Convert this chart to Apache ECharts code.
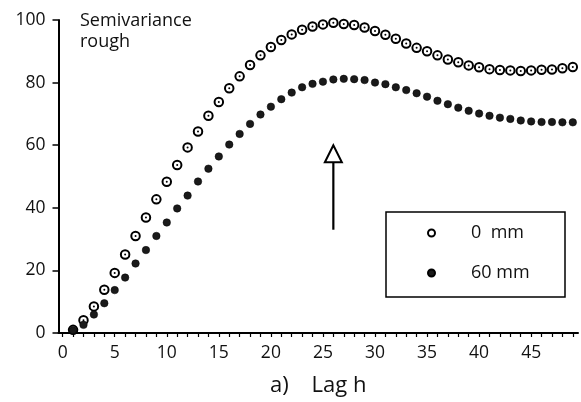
<!DOCTYPE html>
<html>
<head>
<meta charset="utf-8">
<script src="https://cdn.jsdelivr.net/npm/echarts@6/dist/echarts.min.js"></script>
<style>
html, body { margin: 0; padding: 0; background: #fff; }
#chart { width: 581px; height: 402px; }
</style>
</head>
<body>
<div id="chart"></div>
<script>
/* lag h = 1 .. 49 */
var lags = [];
for (var i = 1; i <= 49; i++) lags.push(i)

/* semivariance, 0 mm */
var rough0 = [1.0, 4.1, 8.5, 13.8, 19.2, 25.1, 31.0, 36.9, 42.7, 48.3,
  53.7, 59.3, 64.4, 69.4, 73.8, 78.2, 82.0, 85.6, 88.7, 91.4,
  93.6, 95.4, 96.9, 97.9, 98.6, 99.1, 98.7, 98.4, 97.6, 96.5,
  95.3, 94.0, 92.5, 91.1, 90.0, 88.7, 87.4, 86.5, 85.5, 84.9,
  84.3, 84.0, 83.9, 83.7, 83.9, 84.1, 84.2, 84.6, 85.0]

/* semivariance, 60 mm */
var rough60 = [0.9, 2.6, 5.9, 9.5, 13.7, 17.7, 22.2, 26.5, 31.0, 35.3,
  39.8, 43.9, 48.4, 52.5, 56.4, 60.2, 63.6, 66.8, 69.8, 72.3,
  74.7, 76.8, 78.5, 79.6, 80.3, 81.0, 81.2, 81.1, 80.8, 80.0,
  79.5, 78.5, 77.6, 76.6, 75.5, 74.2, 73.1, 72.0, 71.0, 70.1,
  69.4, 68.8, 68.4, 67.9, 67.6, 67.4, 67.4, 67.3, 67.3]

var xLabels = [0, 5, 10, 15, 20, 25, 30, 35, 40, 45]
var xTicks = []
for (var t = 0; t <= 49; t++) xTicks.push(t)

/* arrow (data units) */
var arrowX = 26, arrowFrom = 33, arrowTo = 60

var font = '"Open Sans", "Noto Sans", sans-serif'

function pairs (ys) {
  return ys.map(function (v, i) { return [lags[i], v] })
}

var box = document.getElementById('chart')
var myChart = echarts.init(box)

var titleText = {
  type: 'text',
  left: 80,
  top: 10,
  style: { text: 'Semivariance\nrough', fontFamily: font, fontSize: 18, lineHeight: 21, fill: '#111' }
}

var options = {
  animation: false,
  grid: { left: 58.5, right: 3, top: 20, bottom: 65 },
  legend: {
    data: ['0  mm', '60 mm'],
    orient: 'vertical',
    left: 386,
    top: 212,
    padding: [11, 30, 14, 41],
    itemGap: 20,
    itemWidth: 7,
    itemHeight: 7,
    borderColor: '#000',
    borderWidth: 1.5,
    textStyle: {
      fontFamily: font,
      fontSize: 18,
      color: '#111',
      lineHeight: 20,
      padding: [0, 0, 0, 31],
      width: 64
    }
  },
  xAxis: {
    type: 'value',
    min: -0.4,
    max: 49.5,
    name: 'a)    Lag h',
    nameLocation: 'middle',
    nameGap: 42,
    nameTextStyle: { fontFamily: font, fontSize: 22, color: '#111' },
    splitLine: { show: false },
    axisLine: { onZero: false, lineStyle: { color: '#000', width: 2 } },
    axisTick: { customValues: xTicks, length: 4, lineStyle: { color: '#000', width: 1.2 } },
    axisLabel: { customValues: xLabels, margin: 11, fontFamily: font, fontSize: 17.5, color: '#111' }
  },
  yAxis: {
    type: 'value',
    min: 0,
    max: 100,
    interval: 20,
    splitLine: { show: false },
    axisLine: { show: true, onZero: false, lineStyle: { color: '#000', width: 2 } },
    axisTick: { show: true, length: 6, lineStyle: { color: '#000', width: 1.5 } },
    axisLabel: { margin: 13, fontFamily: font, fontSize: 17.5, color: '#111' }
  },
  graphic: [titleText],
  series: [{
    name: '0  mm',
    type: 'scatter',
    symbol: 'circle',
    symbolSize: 8.5,
    itemStyle: { color: '#fff', borderColor: '#000', borderWidth: 2, opacity: 1 },
    data: pairs(rough0)
  }, {
    name: '0  mm dot',
    type: 'scatter',
    symbol: 'circle',
    symbolSize: 2,
    silent: true,
    itemStyle: { color: '#000', opacity: 1 },
    data: pairs(rough0)
  }, {
    name: '60 mm',
    type: 'scatter',
    symbol: 'circle',
    symbolSize: 7.5,
    itemStyle: { color: '#1a1a1a', borderColor: '#000', borderWidth: 0.5, opacity: 1 },
    data: pairs(rough60)
  }]
}
myChart.setOption(options)

/* arrow drawn from data coordinates */
var p1 = myChart.convertToPixel({ gridIndex: 0 }, [arrowX, arrowFrom])
var p2 = myChart.convertToPixel({ gridIndex: 0 }, [arrowX, arrowTo])
var headH = 17, headW = 8.5
myChart.setOption({
  graphic: [titleText, {
    type: 'line',
    shape: { x1: p1[0], y1: p1[1], x2: p2[0], y2: p2[1] + headH },
    style: { stroke: '#000', lineWidth: 2.2 }
  }, {
    type: 'polygon',
    shape: { points: [[p2[0], p2[1]], [p2[0] - headW, p2[1] + headH], [p2[0] + headW, p2[1] + headH]] },
    style: { fill: '#fff', stroke: '#000', lineWidth: 2 }
  }]
})
</script>
</body>
</html>
